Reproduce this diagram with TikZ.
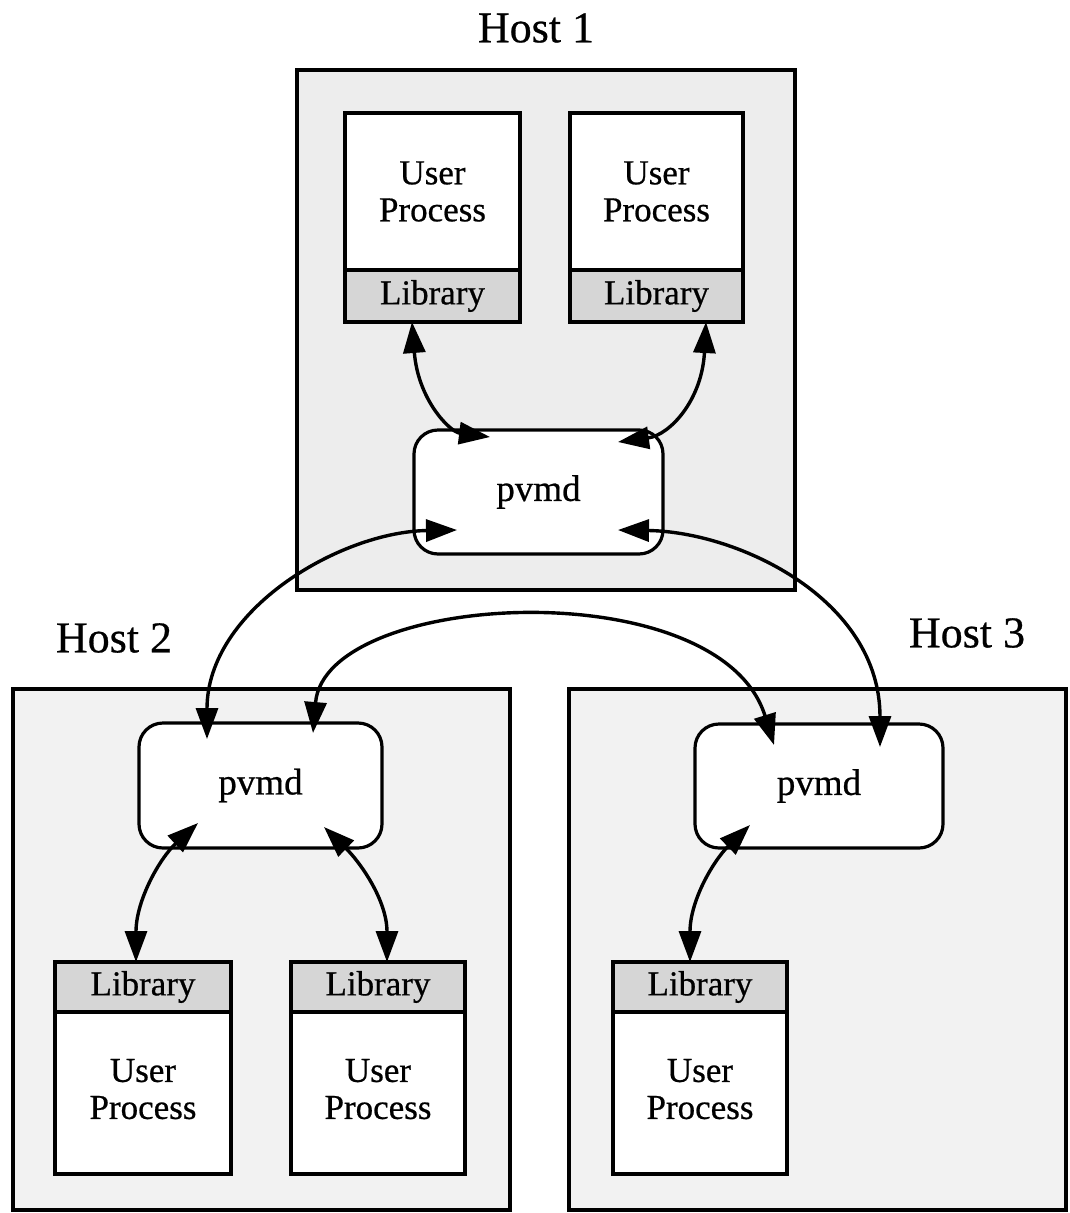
\documentclass[tikz,border=0pt]{standalone}
\usepackage{fontspec}
\setmainfont{Liberation Serif}
\newfontfamily\diagfont{Liberation Serif}[FakeBold=0.6]
\usetikzlibrary{arrows.meta,calc}
\begin{document}
\begin{tikzpicture}[x=1pt,y=-1pt,
  txt/.style={font=\diagfont\fontsize{35}{37}\selectfont},
  hostbox/.style={draw, line width=3.2pt, fill=black!7, inner sep=0pt, outer sep=0pt},
  procbox/.style={txt, draw, line width=3.6pt, fill=white, inner sep=0pt, outer sep=0pt, align=center},
  libbox/.style={txt, draw, line width=3.6pt, fill=black!16, inner sep=0pt, outer sep=0pt},
  pvmdbox/.style={txt, font=\diagfont\fontsize{37}{40}\selectfont, draw, line width=3.2pt, fill=white,
                  rounded corners=24pt, inner sep=0pt, outer sep=0pt,
                  minimum width=248pt, minimum height=124pt},
  hostlabel/.style={font=\diagfont\fontsize{44}{48}\selectfont, inner sep=0pt},
  link/.style={line width=3.4pt, {Triangle[length=31pt,width=22pt]}-{Triangle[length=31pt,width=22pt]}}
]
\useasboundingbox (0,0) rectangle (1069,1213);

% host machines
\node[hostbox, minimum width=498pt, minimum height=520pt] (host1) at (546,330) {};
\node[hostbox, fill=black!5, minimum width=497pt, minimum height=521pt] (host2) at (261.5,949.5) {};
\node[hostbox, fill=black!5, minimum width=497pt, minimum height=521pt] (host3) at (817.5,949.5) {};

\node[hostlabel] (h1lab) at (536,28) {Host 1};
\node[hostlabel] (h2lab) at (114,638) {Host 2};
\node[hostlabel] (h3lab) at (967,633) {Host 3};

% user processes on host 1 (library below)
\node[procbox, minimum width=175pt, minimum height=157pt] (proc11) at (432.5,191.5) {User\\Process};
\node[libbox, minimum width=175pt, minimum height=52pt] (lib11) at (432.5,296) {Library};
\node[procbox, minimum width=173pt, minimum height=157pt] (proc12) at (656.5,191.5) {User\\Process};
\node[libbox, minimum width=173pt, minimum height=52pt] (lib12) at (656.5,296) {Library};

% user processes on hosts 2 and 3 (library on top)
\node[libbox, minimum width=176pt, minimum height=50pt] (lib21) at (143,987) {Library};
\node[procbox, minimum width=176pt, minimum height=162pt] (proc21) at (143,1093)
  {\raisebox{5pt}{\begin{tabular}{@{}c@{}}User\\Process\end{tabular}}};
\node[libbox, minimum width=174pt, minimum height=50pt] (lib22) at (378,987) {Library};
\node[procbox, minimum width=174pt, minimum height=162pt] (proc22) at (378,1093)
  {\raisebox{5pt}{\begin{tabular}{@{}c@{}}User\\Process\end{tabular}}};
\node[libbox, minimum width=174pt, minimum height=50pt] (lib31) at (700,987) {Library};
\node[procbox, minimum width=174pt, minimum height=162pt] (proc31) at (700,1093)
  {\raisebox{5pt}{\begin{tabular}{@{}c@{}}User\\Process\end{tabular}}};

% daemons
\node[pvmdbox, minimum width=249pt] (pv1) at (538.5,492) {pvmd};
\node[pvmdbox, minimum width=243pt, minimum height=125pt] (pv2) at (260.5,785.5) {pvmd};
\node[pvmdbox] (pv3) at (819,786) {pvmd};

% connector end points
\coordinate (a11) at ($(lib11.south west)+(67,0)$);
\coordinate (a12) at ($(lib12.south west)+(136,0)$);
\coordinate (p1tl) at ($(pv1.north west)+(76,7)$);
\coordinate (p1tr) at ($(pv1.north east)+(-45,12)$);
\coordinate (p1l) at ($(pv1.west)+(43,38)$);
\coordinate (p1r) at ($(pv1.east)+(-45,38)$);
\coordinate (p2a) at ($(pv2.north west)+(68,16)$);
\coordinate (p2b) at ($(pv2.north west)+(174,10)$);
\coordinate (p3a) at ($(pv3.north west)+(79,21)$);
\coordinate (p3b) at ($(pv3.north west)+(185,23)$);
\coordinate (p2l) at ($(pv2.south west)+(59,-25)$);
\coordinate (p2r) at ($(pv2.south east)+(-58,-21)$);
\coordinate (p3l) at ($(pv3.south west)+(55,-23)$);
\coordinate (a21) at ($(lib21.north west)+(81,0)$);
\coordinate (a22) at ($(lib22.north west)+(96,0)$);
\coordinate (a31) at ($(lib31.north west)+(77,0)$);

% links inside host 1
\draw[link] (a11) .. controls (418,400) and (450,432) .. (p1tl);
\draw[link] (a12) .. controls (702,400) and (670,435) .. (p1tr);

% links between the daemons
\draw[link] (p1l) .. controls (340,532) and (207,610) .. (p2a);
\draw[link] (p1r) .. controls (740,532) and (880,600) .. (p3b);
\draw[link] (p2b) .. controls (325,590) and (720,570) .. (p3a);

% links inside hosts 2 and 3
\draw[link] (p2l) .. controls (160,858) and (136,900) .. (a21);
\draw[link] (p2r) .. controls (360,862) and (387,900) .. (a22);
\draw[link] (p3l) .. controls (714,860) and (690,900) .. (a31);
\end{tikzpicture}
\end{document}
